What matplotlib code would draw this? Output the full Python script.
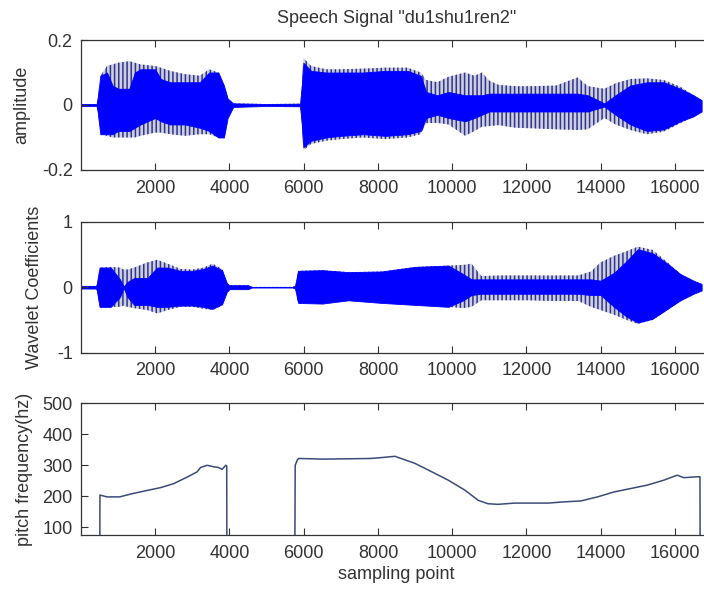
import matplotlib
matplotlib.use("Agg")
import matplotlib.pyplot as plt

# ---- speech signal envelope ----
sig_x = [0, 420, 450, 520, 700, 850, 1000, 1300, 1450, 1600, 2000, 2150, 2400, 2800, 3200,
         3450, 3700, 3850, 3950, 4100, 5000, 5900, 5950, 5990, 6200, 6600, 7000, 7600, 8200,
         8800, 9150, 9300, 9600, 9900, 10350, 10600, 10800, 11000, 11250, 11700, 12200, 12800,
         13380, 13650, 14100, 14400, 14800, 15250, 15700, 16150, 16500, 16720]
sig_hi = [0.003, 0.003, 0.02, 0.09, 0.12, 0.125, 0.13, 0.135, 0.13, 0.125, 0.12, 0.115, 0.105,
          0.095, 0.09, 0.11, 0.10, 0.06, 0.02, 0.005, 0.003, 0.004, 0.06, 0.145, 0.12, 0.11,
          0.11, 0.112, 0.115, 0.115, 0.10, 0.077, 0.07, 0.087, 0.10, 0.09, 0.10, 0.075, 0.062,
          0.058, 0.058, 0.06, 0.085, 0.058, 0.05, 0.067, 0.08, 0.082, 0.077, 0.056, 0.03, 0.015]
sig_lo = [-0.003, -0.003, -0.02, -0.09, -0.095, -0.1, -0.1, -0.1, -0.1, -0.095, -0.085, -0.085,
          -0.09, -0.095, -0.09, -0.09, -0.1, -0.1, -0.04, -0.006, -0.003, -0.004, -0.06, -0.14,
          -0.12, -0.11, -0.105, -0.1, -0.105, -0.1, -0.09, -0.056, -0.055, -0.06, -0.095, -0.08,
          -0.067, -0.065, -0.062, -0.07, -0.072, -0.075, -0.077, -0.075, -0.04, -0.06, -0.077,
          -0.09, -0.082, -0.056, -0.035, -0.02]
sig_core_hi = [0.003, 0.003, 0.02, 0.09, 0.10, 0.06, 0.05, 0.05, 0.10, 0.11, 0.11, 0.08, 0.07,
               0.07, 0.07, 0.10, 0.10, 0.06, 0.02, 0.005, 0.003, 0.004, 0.06, 0.13, 0.105, 0.10,
               0.10, 0.10, 0.105, 0.105, 0.09, 0.04, 0.03, 0.04, 0.03, 0.03, 0.03, 0.035, 0.035,
               0.035, 0.035, 0.035, 0.035, 0.03, 0.005, 0.03, 0.06, 0.07, 0.07, 0.05, 0.03, 0.015]
sig_core_lo = [-0.003, -0.003, -0.02, -0.09, -0.09, -0.09, -0.08, -0.08, -0.07, -0.06, -0.04,
               -0.05, -0.06, -0.06, -0.07, -0.08, -0.10, -0.10, -0.04, -0.006, -0.003, -0.004,
               -0.06, -0.13, -0.11, -0.10, -0.095, -0.09, -0.095, -0.09, -0.08, -0.04, -0.03,
               -0.04, -0.05, -0.04, -0.03, -0.02, -0.02, -0.02, -0.02, -0.02, -0.02, -0.02,
               -0.005, -0.03, -0.06, -0.08, -0.075, -0.05, -0.035, -0.02]

# ---- wavelet coefficients envelope ----
wav_x = [0, 400, 430, 500, 800, 1050, 1150, 1250, 1430, 1790, 2050, 2325, 2680, 3000, 3300,
         3540, 3800, 3930, 4000, 4500, 4600, 5700, 5765, 5850, 6500, 7200, 8100, 9000, 9900,
         10300, 10520, 10786, 11300, 12000, 12700, 13400, 13740, 14000, 14360, 14700, 15000,
         15400, 15800, 16150, 16500, 16720]
wav_hi = [0.02, 0.02, 0.05, 0.30, 0.31, 0.30, 0.27, 0.27, 0.30, 0.38, 0.42, 0.36, 0.28, 0.27,
          0.30, 0.36, 0.28, 0.06, 0.03, 0.03, 0.005, 0.005, 0.02, 0.25, 0.26, 0.23, 0.24, 0.31,
          0.33, 0.34, 0.36, 0.17, 0.18, 0.18, 0.18, 0.18, 0.24, 0.38, 0.48, 0.55, 0.62, 0.57,
          0.38, 0.20, 0.10, 0.05]
wav_lo = [-0.02, -0.02, -0.05, -0.30, -0.30, -0.30, -0.28, -0.30, -0.32, -0.35, -0.40, -0.35,
          -0.30, -0.30, -0.33, -0.35, -0.28, -0.07, -0.03, -0.03, -0.005, -0.005, -0.02, -0.24,
          -0.25, -0.20, -0.24, -0.27, -0.30, -0.32, -0.30, -0.20, -0.20, -0.20, -0.21, -0.21,
          -0.30, -0.35, -0.42, -0.50, -0.56, -0.50, -0.35, -0.20, -0.10, -0.05]
wav_core_hi = [0.02, 0.02, 0.05, 0.30, 0.30, 0.12, 0.01, 0.08, 0.14, 0.14, 0.30, 0.30, 0.25,
               0.25, 0.28, 0.33, 0.26, 0.06, 0.03, 0.03, 0.005, 0.005, 0.02, 0.25, 0.26, 0.23,
               0.24, 0.31, 0.33, 0.20, 0.12, 0.12, 0.12, 0.12, 0.12, 0.12, 0.12, 0.10, 0.22,
               0.40, 0.58, 0.52, 0.36, 0.20, 0.10, 0.05]
wav_core_lo = [-0.02, -0.02, -0.05, -0.30, -0.30, -0.15, -0.01, -0.15, -0.27, -0.27, -0.30,
               -0.30, -0.28, -0.28, -0.30, -0.33, -0.26, -0.07, -0.03, -0.03, -0.005, -0.005,
               -0.02, -0.24, -0.25, -0.20, -0.24, -0.27, -0.30, -0.20, -0.12, -0.10, -0.10,
               -0.10, -0.10, -0.10, -0.12, -0.12, -0.30, -0.45, -0.54, -0.48, -0.33, -0.20,
               -0.10, -0.05]

# ---- pitch track ----
pitch_x = [0, 505, 510, 700, 1040, 1400, 1790, 2145, 2500, 2860, 3130, 3220, 3400, 3580, 3700,
           3800, 3900, 3925, 3930, 5760, 5770, 5830, 5870, 6500, 7200, 7800, 8100, 8460, 8550,
           9000, 9450, 9893, 10340, 10700, 10960, 11230, 11680, 12574, 13020, 13468, 13915,
           14360, 14808, 15255, 15700, 16060, 16240, 16600, 16675, 16680]
pitch_hz = [0, 0, 204, 198, 198, 209, 219, 228, 241, 262, 279, 293, 300, 295, 293, 287, 300,
            298, 0, 0, 300, 318, 322, 320, 321, 322, 325, 329, 325, 306, 279, 252, 220, 187,
            176, 174, 178, 178, 182, 185, 198, 214, 225, 236, 252, 268, 260, 263, 263, 0]

x_ticks = [2000, 4000, 6000, 8000, 10000, 12000, 14000, 16000]

BLUE = "#0000ff"
TXT = "#333333"


def draw_wave(ax, x, hi, lo, core_hi, core_lo):
    # striped outer part, solid blue core
    ax.fill_between(x, lo, hi, facecolor="#cfcfdc", edgecolor="#2c3494",
                    hatch="||||", linewidth=0)
    ax.fill_between(x, core_lo, core_hi, facecolor=BLUE, edgecolor=BLUE, linewidth=0.6)


def style(ax):
    ax.set_xlim(0, 17000)
    ax.set_xticks(x_ticks)
    ax.tick_params(direction="in", top=True, right=True, length=5, width=0.8,
                   labelsize=13, colors=TXT)
    ax.tick_params(axis="x", pad=7)
    ax.tick_params(axis="y", pad=6)
    for s in ax.spines.values():
        s.set_color(TXT)
        s.set_linewidth(0.9)


def main():
    plt.rcParams["font.family"] = ["Liberation Sans", "DejaVu Sans"]
    plt.rcParams["axes.unicode_minus"] = False
    plt.rcParams["hatch.linewidth"] = 1.1

    fig = plt.figure(figsize=(7.04, 5.9), dpi=100)
    left, width = 0.1151, 0.8963
    ax1 = fig.add_axes([left, 0.7119, width, 0.2203])
    ax2 = fig.add_axes([left, 0.4022, width, 0.2220])
    ax3 = fig.add_axes([left, 0.0932, width, 0.2232])

    draw_wave(ax1, sig_x, sig_hi, sig_lo, sig_core_hi, sig_core_lo)
    style(ax1)
    ax1.set_ylim(-0.2, 0.2)
    ax1.set_yticks([-0.2, 0, 0.2])
    ax1.set_yticklabels(["-0.2", "0", "0.2"])
    ax1.set_ylabel("amplitude", fontsize=13, color=TXT)
    ax1.yaxis.set_label_coords(-0.081, 0.5)
    ax1.set_title('Speech Signal "du1shu1ren2"', fontsize=13, color=TXT, pad=12)

    draw_wave(ax2, wav_x, wav_hi, wav_lo, wav_core_hi, wav_core_lo)
    style(ax2)
    ax2.set_ylim(-1, 1)
    ax2.set_yticks([-1, 0, 1])
    ax2.set_yticklabels(["-1", "0", "1"])
    ax2.set_ylabel("Wavelet Coefficients", fontsize=13, color=TXT)
    ax2.yaxis.set_label_coords(-0.060, 0.5)

    ax3.plot(pitch_x, pitch_hz, color="#3c4a78", linewidth=1.1)
    style(ax3)
    ax3.set_ylim(75, 500)
    ax3.set_yticks([100, 200, 300, 400, 500])
    ax3.set_ylabel("pitch frequency(hz)", fontsize=13, color=TXT)
    ax3.yaxis.set_label_coords(-0.076, 0.5)
    ax3.set_xlabel("sampling point", fontsize=13, color=TXT)
    ax3.xaxis.set_label_coords(0.5, -0.235)
    ax3.xaxis.label.set_va("top")

    fig.savefig("out.png", dpi=100)


if __name__ == "__main__":
    main()
